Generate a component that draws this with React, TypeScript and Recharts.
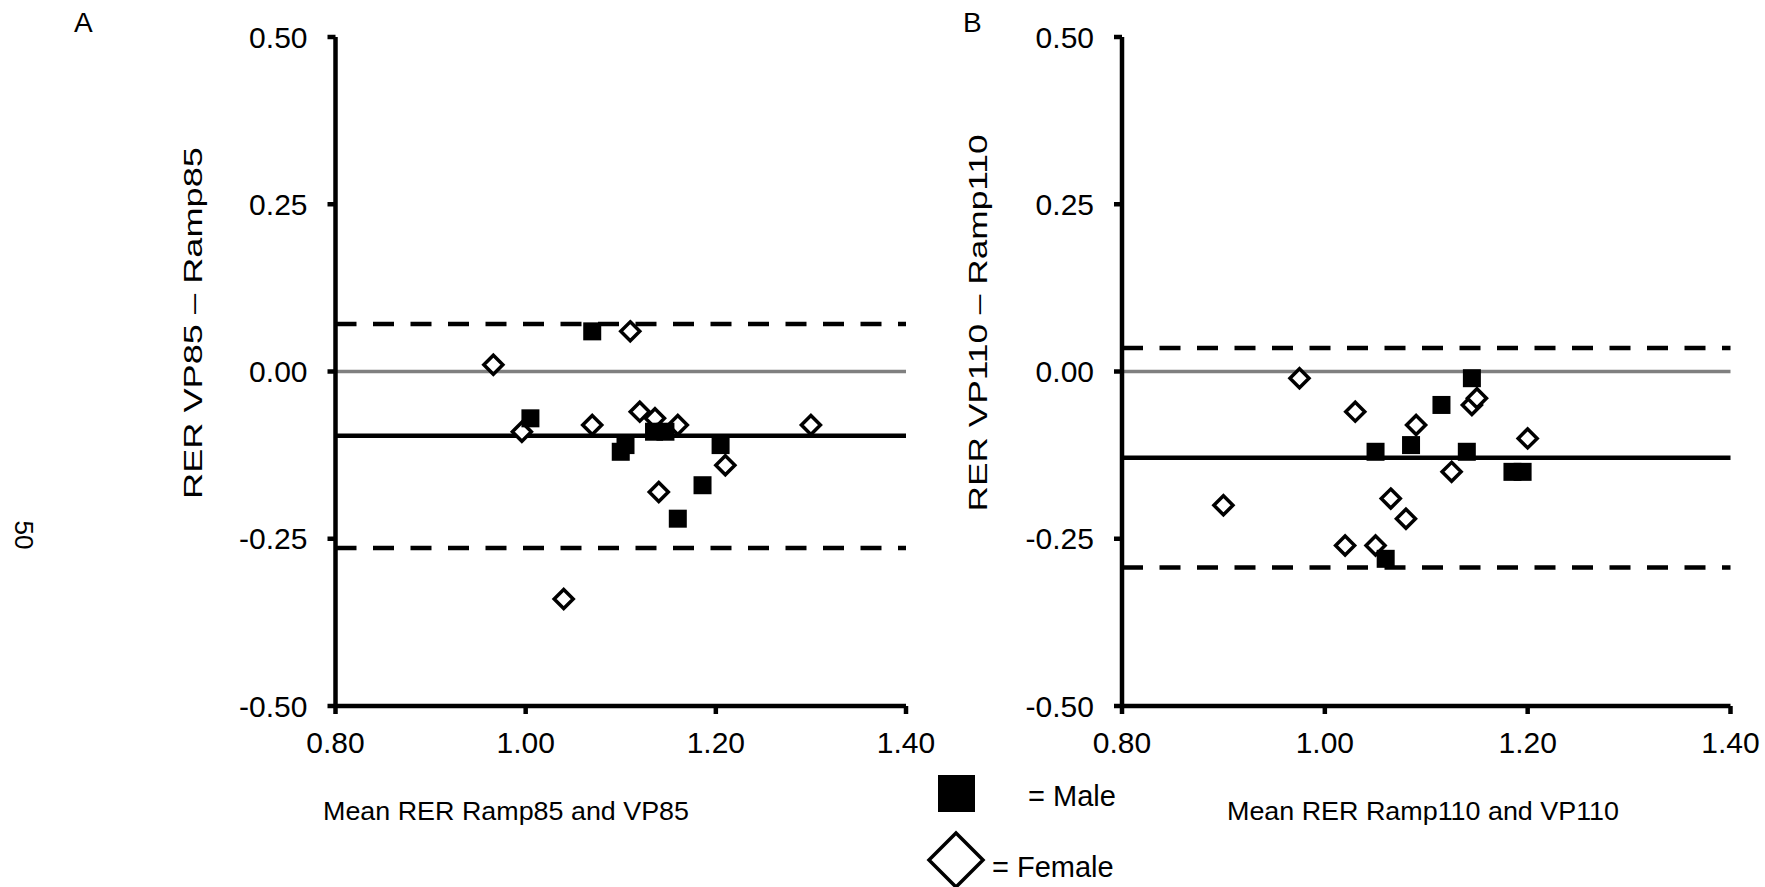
import React from 'react'
import {
  ScatterChart,
  Scatter,
  XAxis,
  YAxis,
  ReferenceLine
} from 'recharts'

// Bland-Altman panels: [mean RER, difference]
const femaleA: [number, number][] = [
  [0.966, 0.01],
  [0.996, -0.09],
  [1.07, -0.08],
  [1.11, 0.06],
  [1.12, -0.06],
  [1.136, -0.07],
  [1.16, -0.08],
  [1.14, -0.18],
  [1.21, -0.14],
  [1.04, -0.34],
  [1.3, -0.08]
]
const maleA: [number, number][] = [
  [1.07, 0.06],
  [1.005, -0.07],
  [1.1, -0.12],
  [1.105, -0.11],
  [1.135, -0.09],
  [1.147, -0.09],
  [1.205, -0.11],
  [1.186, -0.17],
  [1.16, -0.22]
]
const femaleB: [number, number][] = [
  [0.975, -0.01],
  [1.03, -0.06],
  [1.09, -0.08],
  [1.145, -0.05],
  [1.15, -0.04],
  [1.2, -0.1],
  [1.125, -0.15],
  [1.065, -0.19],
  [1.08, -0.22],
  [0.9, -0.2],
  [1.02, -0.26],
  [1.05, -0.26]
]
const maleB: [number, number][] = [
  [1.145, -0.01],
  [1.115, -0.05],
  [1.085, -0.11],
  [1.05, -0.12],
  [1.14, -0.12],
  [1.185, -0.15],
  [1.195, -0.15],
  [1.06, -0.28]
]

// mean bias and limits of agreement
const limitsA = { mean: -0.096, upper: 0.071, lower: -0.264 }
const limitsB = { mean: -0.129, upper: 0.035, lower: -0.293 }

const xTicks = [0.8, 1.0, 1.2, 1.4]
const yTicks = [-0.5, -0.25, 0, 0.25, 0.5]

const FONT = "'Liberation Sans', Arial, sans-serif"

const toPoints = (arr: [number, number][]) => arr.map(([x, y]) => ({ x, y }))

const SquareShape = (props: any) => {
  const { cx, cy } = props
  return <rect x={cx - 9} y={cy - 9} width={18} height={18} fill='#000' />
}

const DiamondShape = (props: any) => {
  const { cx, cy } = props
  const r = 9.5
  return (
    <path
      d={`M${cx},${cy - r}L${cx + r},${cy}L${cx},${cy + r}L${cx - r},${cy}Z`}
      fill='#fff'
      stroke='#000'
      strokeWidth={3.5}
    />
  )
}

interface PanelProps {
  width: number
  yAxisWidth: number
  right: number
  female: [number, number][]
  male: [number, number][]
  limits: { mean: number; upper: number; lower: number }
}

const Panel: React.FC<PanelProps> = ({ width, yAxisWidth, right, female, male, limits }) => {
  const tickStyle = { fill: '#000', fontSize: 30, fontFamily: FONT }
  const lineStyle = { stroke: '#000', strokeWidth: 4.5 }
  return (
    <ScatterChart
      width={width}
      height={780}
      margin={{ top: 37, right, bottom: 24, left: 0 }}
    >
      <XAxis
        type='number'
        dataKey='x'
        domain={[0.8, 1.4]}
        ticks={xTicks}
        tickFormatter={(v: number) => v.toFixed(2)}
        height={50}
        tick={tickStyle}
        axisLine={lineStyle}
        tickLine={lineStyle}
        tickSize={8}
        tickMargin={18}
        allowDataOverflow
      />
      <YAxis
        type='number'
        dataKey='y'
        domain={[-0.5, 0.5]}
        ticks={yTicks}
        tickFormatter={(v: number) => v.toFixed(2)}
        width={yAxisWidth}
        tick={tickStyle}
        axisLine={lineStyle}
        tickLine={lineStyle}
        tickSize={8}
        tickMargin={20}
        allowDataOverflow
      />
      <ReferenceLine y={0} stroke='#808080' strokeWidth={3.5} />
      <ReferenceLine y={limits.mean} stroke='#000' strokeWidth={4.5} />
      <ReferenceLine y={limits.upper} stroke='#000' strokeWidth={4.5} strokeDasharray='21 16.5' />
      <ReferenceLine y={limits.lower} stroke='#000' strokeWidth={4.5} strokeDasharray='21 16.5' />
      <Scatter
        name='Female'
        data={toPoints(female)}
        shape={DiamondShape}
        isAnimationActive={false}
      />
      <Scatter
        name='Male'
        data={toPoints(male)}
        shape={SquareShape}
        isAnimationActive={false}
      />
    </ScatterChart>
  )
}

const App: React.FC = () => {
  return (
    <div style={{ position: 'absolute', left: 0, top: 0, width: 1765, height: 887, background: '#fff', overflow: 'hidden' }}>
      <div style={{ position: 'absolute', left: 0, top: 0 }}>
        <Panel width={970} yAxisWidth={335.5} right={64} female={femaleA} male={maleA} limits={limitsA} />
      </div>
      <div style={{ position: 'absolute', left: 930, top: 0 }}>
        <Panel width={835} yAxisWidth={192} right={34.5} female={femaleB} male={maleB} limits={limitsB} />
      </div>
      <svg
        width={1765}
        height={887}
        style={{ position: 'absolute', left: 0, top: 0, pointerEvents: 'none' }}
        fontFamily={FONT}
      >
        <text x={74} y={22} dy='0.36em' fontSize={28}>A</text>
        <text x={963} y={22} dy='0.36em' fontSize={28}>B</text>

        <text
          transform='translate(193,323) rotate(-90)'
          dy='0.36em'
          textAnchor='middle'
          fontSize={26}
          textLength={352}
          lengthAdjust='spacingAndGlyphs'
        >
          RER VP85 – Ramp85
        </text>
        <text
          transform='translate(978,323) rotate(-90)'
          dy='0.36em'
          textAnchor='middle'
          fontSize={26}
          textLength={377}
          lengthAdjust='spacingAndGlyphs'
        >
          RER VP110 – Ramp110
        </text>

        <text
          x={506}
          y={811}
          dy='0.36em'
          textAnchor='middle'
          fontSize={26}
          textLength={366}
          lengthAdjust='spacingAndGlyphs'
        >
          Mean RER Ramp85 and VP85
        </text>
        <text
          x={1423}
          y={811}
          dy='0.36em'
          textAnchor='middle'
          fontSize={26}
          textLength={392}
          lengthAdjust='spacingAndGlyphs'
        >
          Mean RER Ramp110 and VP110
        </text>

        <rect x={938} y={775} width={37} height={37} fill='#000' />
        <text x={1028} y={796} dy='0.36em' fontSize={29}>= Male</text>
        <path d='M956,833L983,860L956,887L929,860Z' fill='#fff' stroke='#000' strokeWidth={3.5} />
        <text x={992} y={867} dy='0.36em' fontSize={29}>= Female</text>

        <text transform='translate(24,535) rotate(90)' dy='0.36em' textAnchor='middle' fontSize={26}>50</text>
      </svg>
    </div>
  )
}

export default App
